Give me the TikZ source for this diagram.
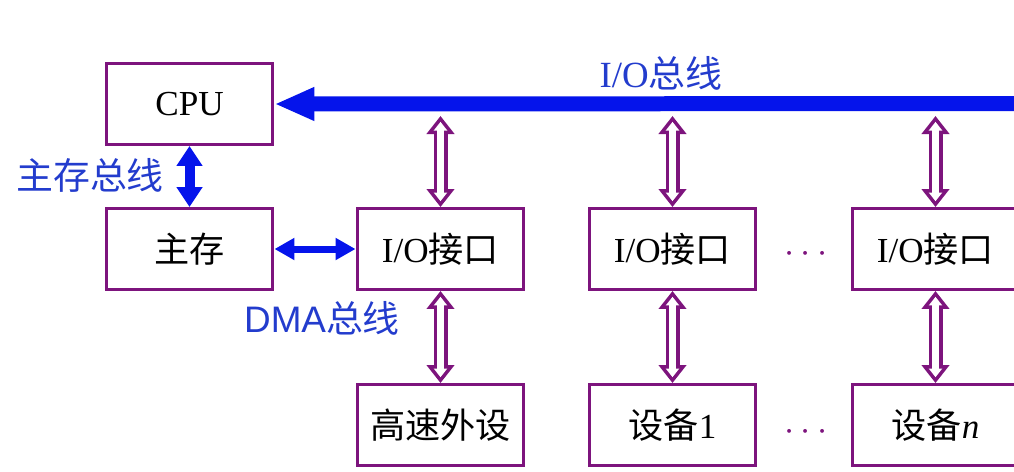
\documentclass[tikz,border=0pt]{standalone}
\usepackage{fontspec}
\setmainfont{Liberation Serif}
\newfontfamily\cjk{Noto Sans CJK SC}
\newfontfamily\lsans{Liberation Sans}
\usetikzlibrary{arrows.meta}
\definecolor{boxpurple}{RGB}{125,20,125}
\definecolor{busblue}{RGB}{5,20,235}
\definecolor{labelblue}{RGB}{35,60,205}
\tikzset{
  unit/.style={draw=boxpurple, line width=1.7pt, minimum width=3.34cm, minimum height=1.62cm,
    font=\fontsize{20}{24}\selectfont},
  hollow/.style={draw=boxpurple, line width=0.28cm,
    {Triangle[length=0.36cm,width=0.54cm]}-{Triangle[length=0.36cm,width=0.54cm]},
    postaction={draw=white, line width=0.14cm, shorten <=0.117cm, shorten >=0.117cm,
      {Triangle[length=0.173cm,width=0.26cm]}-{Triangle[length=0.173cm,width=0.26cm]}}},
  buslabel/.style={text=labelblue, font=\fontsize{21}{25}\selectfont},
  ellip/.style={text=boxpurple, font=\fontsize{20}{24}\selectfont}
}
\begin{document}
\begin{tikzpicture}[x=0.02cm,y=-0.02cm]
\useasboundingbox (0,0) rectangle (1014,471);

\node[unit] (cpu) at (189.5,104) {CPU};
\node[unit] (mem) at (189.5,249) {\cjk 主存};
\node[unit] (io1) at (440.5,249) {I/O{\cjk 接口}};
\node[unit] (io2) at (672.5,249) {I/O{\cjk 接口}};
\node[unit] (io3) at (935.5,249) {I/O{\cjk 接口}};
\node[unit] (dev1) at (440.5,425) {\cjk 高速外设};
\node[unit] (dev2) at (672.5,425) {{\cjk 设备}1};
\node[unit] (dev3) at (935.5,425) {{\cjk 设备}\textit{n}};

\node[ellip] (dotsA) at (806,254) {$\cdots$};
\node[ellip] (dotsB) at (806,432) {$\cdots$};

\coordinate (busend) at (1030,103.5);
\draw[busblue, line width=0.3cm, -{Triangle[length=0.8cm,width=0.62cm]}] (busend) -- (cpu.east);

\draw[busblue, line width=0.2cm, {Triangle[length=0.4cm,width=0.5cm]}-{Triangle[length=0.4cm,width=0.5cm]}] (cpu.south) -- (mem.north);
\draw[busblue, line width=0.14cm, {Triangle[length=0.4cm,width=0.42cm]}-{Triangle[length=0.4cm,width=0.42cm]}] (mem.east) -- (io1.west);

\coordinate (tap1) at (440.5,116);
\coordinate (tap2) at (672.5,116);
\coordinate (tap3) at (935.5,116);
\draw[hollow] (tap1) -- (io1.north);
\draw[hollow] (tap2) -- (io2.north);
\draw[hollow] (tap3) -- (io3.north);

\draw[hollow] (io1.south) -- (dev1.north);
\draw[hollow] (io2.south) -- (dev2.north);
\draw[hollow] (io3.south) -- (dev3.north);

\node[buslabel] (iobus) at (661,73) {I/O{\cjk 总线}};
\node[buslabel] (membus) at (90,175) {\cjk 主存总线};
\node[buslabel] (dmabus) at (322,318) {{\lsans DMA}{\cjk 总线}};
\end{tikzpicture}
\end{document}
